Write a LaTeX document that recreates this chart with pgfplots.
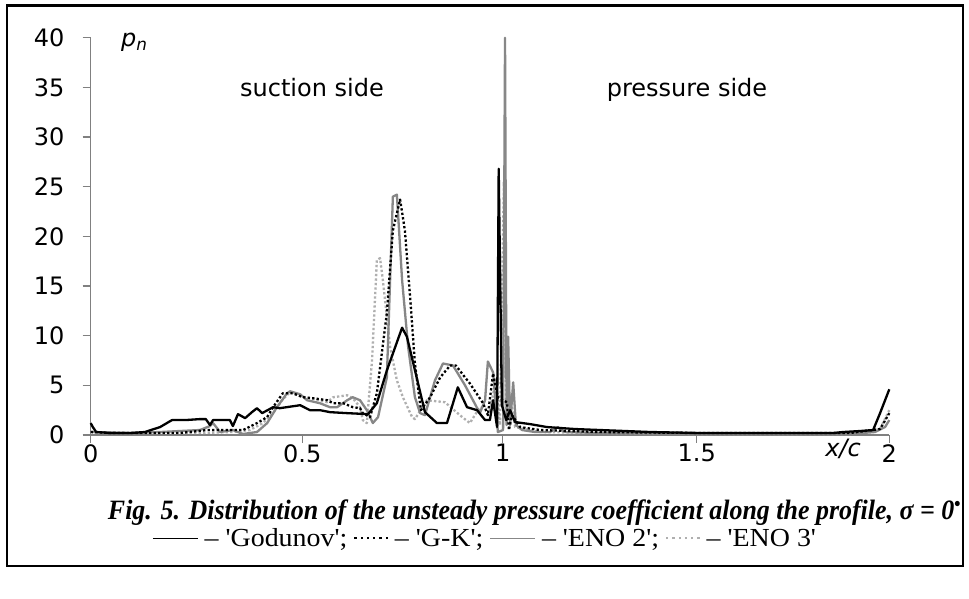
\documentclass[border=0pt]{standalone}
\usepackage{fontspec}
\usepackage{graphicx}
\usepackage{xcolor}
\usepackage{pgfplots}
\pgfplotsset{compat=1.18}
\setmainfont{DejaVu Sans}
\newfontfamily\capfont{Liberation Serif}
\definecolor{enotwo}{RGB}{135,135,135}
\definecolor{enothree}{RGB}{175,175,175}
\definecolor{axgray}{RGB}{128,128,128}
\newcommand{\solidseg}[1]{\textcolor{#1}{\rule[0.3em]{1.6em}{1.6pt}}}
\newcommand{\dotunit}{\rule[0.3em]{2.2pt}{2.2pt}\hspace{3.6pt}}
\newcommand{\dotseg}[1]{\textcolor{#1}{\dotunit\dotunit\dotunit\dotunit\dotunit\rule[0.3em]{2.2pt}{2.2pt}}}
\begin{document}
\begin{tikzpicture}
\useasboundingbox (0pt,0pt) rectangle (969pt,599pt);
\fill[white] (0pt,0pt) rectangle (969pt,599pt);
\draw[line width=2.5pt] (7pt,593.3pt) rectangle (963pt,33pt);
\begin{axis}[
  at={(90.7pt,164pt)}, anchor=south west,
  scale only axis, width=798.6pt, height=397.3pt,
  xmin=0, xmax=2, ymin=0, ymax=40,
  x coord trafo/.code={\pgfmathparse{#1<=0.5 ? 1.0598*#1 : (#1<=1 ? 0.5299+1.0038*(#1-0.5) : (#1<=1.5 ? 1.0318+0.9718*(#1-1) : 1.5177+0.9646*(#1-1.5)))}},
  xtick={0,0.5,1,1.5,2}, xticklabels={0,0.5,1,1.5,2},
  ytick={0,5,...,40},
  axis lines=left, axis line style={-, axgray, line width=1.3pt},
  tick align=outside, major tick length=8pt,
  tick style={axgray, line width=1.3pt},
  ticklabel style={font=\fontsize{24}{28}\selectfont, inner sep=0pt},
  xticklabel shift=1pt, yticklabel shift=18pt,
  /pgf/number format/assume math mode=true,
  clip=false,
  every axis plot/.append style={line width=2.3pt, line join=round},
]
% ENO 3
\addplot[enothree, dash pattern=on 2.3pt off 2.2pt] coordinates {
(0,0.3)(0.093,0.2)(0.258,0.2)(0.336,0.3)(0.376,0.5)(0.407,1.2)(0.431,2.2)(0.454,3.6)(0.471,4.3)(0.495,3.9)
(0.532,3.6)(0.562,3.3)(0.577,3.8)(0.612,4.0)(0.626,3.7)(0.644,2.8)(0.651,1.5)(0.661,1.2)(0.674,7.5)(0.686,17.6)
(0.694,17.8)(0.701,15.6)(0.719,8.9)(0.736,5.5)(0.751,3.8)(0.774,1.8)(0.781,1.6)(0.811,3.5)(0.856,3.3)(0.893,2.0)
(0.918,1.2)(0.943,2.8)(0.968,2.5)(0.983,5.5)(0.993,1.0)(1.003,25.5)(1.009,2.0)(1.019,4.0)(1.032,0.8)(1.096,0.3)
(1.251,0.2)(1.509,0.1)(1.898,0.1)(1.976,0.6)(2.0,2.5)};
% ENO 2
\addplot[enotwo] coordinates {
(0,0.3)(0.093,0.2)(0.164,0.3)(0.258,0.5)(0.282,0.9)(0.289,1.2)(0.306,0.3)(0.336,0.5)(0.360,0.1)(0.393,0.3)
(0.417,1.2)(0.440,2.8)(0.464,4.2)(0.471,4.4)(0.495,4.1)(0.512,3.5)(0.544,3.2)(0.569,2.8)(0.587,2.8)(0.612,3.5)
(0.626,3.8)(0.644,3.5)(0.661,2.5)(0.676,1.2)(0.689,1.8)(0.711,5.8)(0.726,24.0)(0.736,24.2)(0.749,15.6)(0.764,8.9)
(0.781,3.8)(0.794,2.2)(0.806,2.0)(0.831,5.5)(0.851,7.2)(0.876,7.0)(0.906,5.0)(0.943,2.2)(0.956,3.5)(0.963,7.4)
(0.976,6.3)(0.988,0.3)(1.001,0.5)(1.006,40)(1.010,1.0)(1.014,9.9)(1.019,1.0)(1.027,5.3)(1.034,1.0)(1.050,0.5)
(1.083,0.3)(1.122,0.3)(1.142,0.8)(1.160,0.3)(1.251,0.2)(1.509,0.1)(1.898,0.1)(1.963,0.3)(1.989,0.8)(2.0,1.5)};
% G-K
\addplot[black, dash pattern=on 2.3pt off 2.2pt] coordinates {
(0,0.3)(0.046,0.2)(0.211,0.2)(0.275,0.5)(0.336,0.5)(0.360,0.5)(0.393,1.2)(0.417,1.8)(0.431,2.8)(0.454,4.2)
(0.478,4.2)(0.502,3.8)(0.527,3.7)(0.562,3.5)(0.577,3.2)(0.602,3.2)(0.626,2.8)(0.644,2.7)(0.651,2.2)(0.669,1.8)
(0.686,4.2)(0.711,12.3)(0.726,20.6)(0.744,23.7)(0.756,20.6)(0.769,13.9)(0.781,7.2)(0.796,2.5)(0.819,3.8)(0.844,5.8)
(0.869,7.0)(0.883,7.0)(0.906,5.8)(0.918,5.2)(0.951,3.2)(0.963,2.0)(0.976,6.2)(0.988,3.8)(1.001,3.5)(1.011,3.3)
(1.016,0.5)(1.024,2.0)(1.045,0.8)(1.096,0.5)(1.251,0.3)(1.509,0.2)(1.898,0.2)(1.976,0.6)(2.0,2.2)};
% Godunov
\addplot[black] coordinates {
(0,1.2)(0.005,0.8)(0.013,0.3)(0.046,0.2)(0.093,0.2)(0.128,0.3)(0.164,0.8)(0.192,1.5)(0.223,1.5)(0.258,1.6)
(0.272,1.6)(0.282,1.0)(0.289,1.5)(0.329,1.5)(0.336,0.9)(0.348,2.1)(0.365,1.7)(0.381,2.3)(0.393,2.7)(0.405,2.2)
(0.431,2.8)(0.447,2.7)(0.495,3.0)(0.519,2.5)(0.544,2.5)(0.569,2.3)(0.612,2.2)(0.664,2.1)(0.686,3.2)(0.711,6.5)
(0.749,10.8)(0.761,9.9)(0.806,2.3)(0.836,1.2)(0.861,1.2)(0.888,4.8)(0.911,2.8)(0.936,2.5)(0.956,1.5)(0.968,1.5)
(0.976,3.5)(0.986,0.8)(0.990,26.8)(0.998,3.0)(1.009,1.5)(1.019,2.5)(1.032,1.3)(1.070,1.1)(1.114,0.8)(1.186,0.6)
(1.251,0.5)(1.380,0.3)(1.509,0.2)(1.664,0.2)(1.854,0.2)(1.880,0.3)(1.924,0.4)(1.958,0.5)(1.976,2.2)(2.0,4.6)};
\end{axis}
\node[anchor=base west, font=\fontsize{24}{28}\selectfont, inner sep=0pt] at (121pt,552pt) {\itshape p\textsubscript{\itshape n}};
\node[anchor=base, font=\fontsize{24}{28}\selectfont, inner sep=0pt] at (312pt,502.3pt) {suction side};
\node[anchor=base, font=\fontsize{24}{28}\selectfont, inner sep=0pt] at (687pt,502.3pt) {pressure side};
\node[font=\fontsize{24}{28}\selectfont, inner sep=0pt] at (843pt,150pt) {\itshape x/c};
\node[anchor=base, inner sep=0pt] at (534.5pt,79pt) {\resizebox{853pt}{\height}{\capfont\fontsize{28}{32}\selectfont\bfseries\itshape Fig. 5. Distribution of the unsteady pressure coefficient along the profile, σ = 0\textsuperscript{•}}};
\node[anchor=base, inner sep=0pt] at (484.5pt,52pt) {\resizebox{663pt}{\height}{\capfont\fontsize{26}{30}\selectfont \solidseg{black} – \textquotesingle Godunov\textquotesingle; \dotseg{black} – \textquotesingle G-K\textquotesingle; \solidseg{enotwo} – \textquotesingle ENO 2\textquotesingle; \dotseg{enothree} – \textquotesingle ENO 3\textquotesingle}};
\end{tikzpicture}
\end{document}
